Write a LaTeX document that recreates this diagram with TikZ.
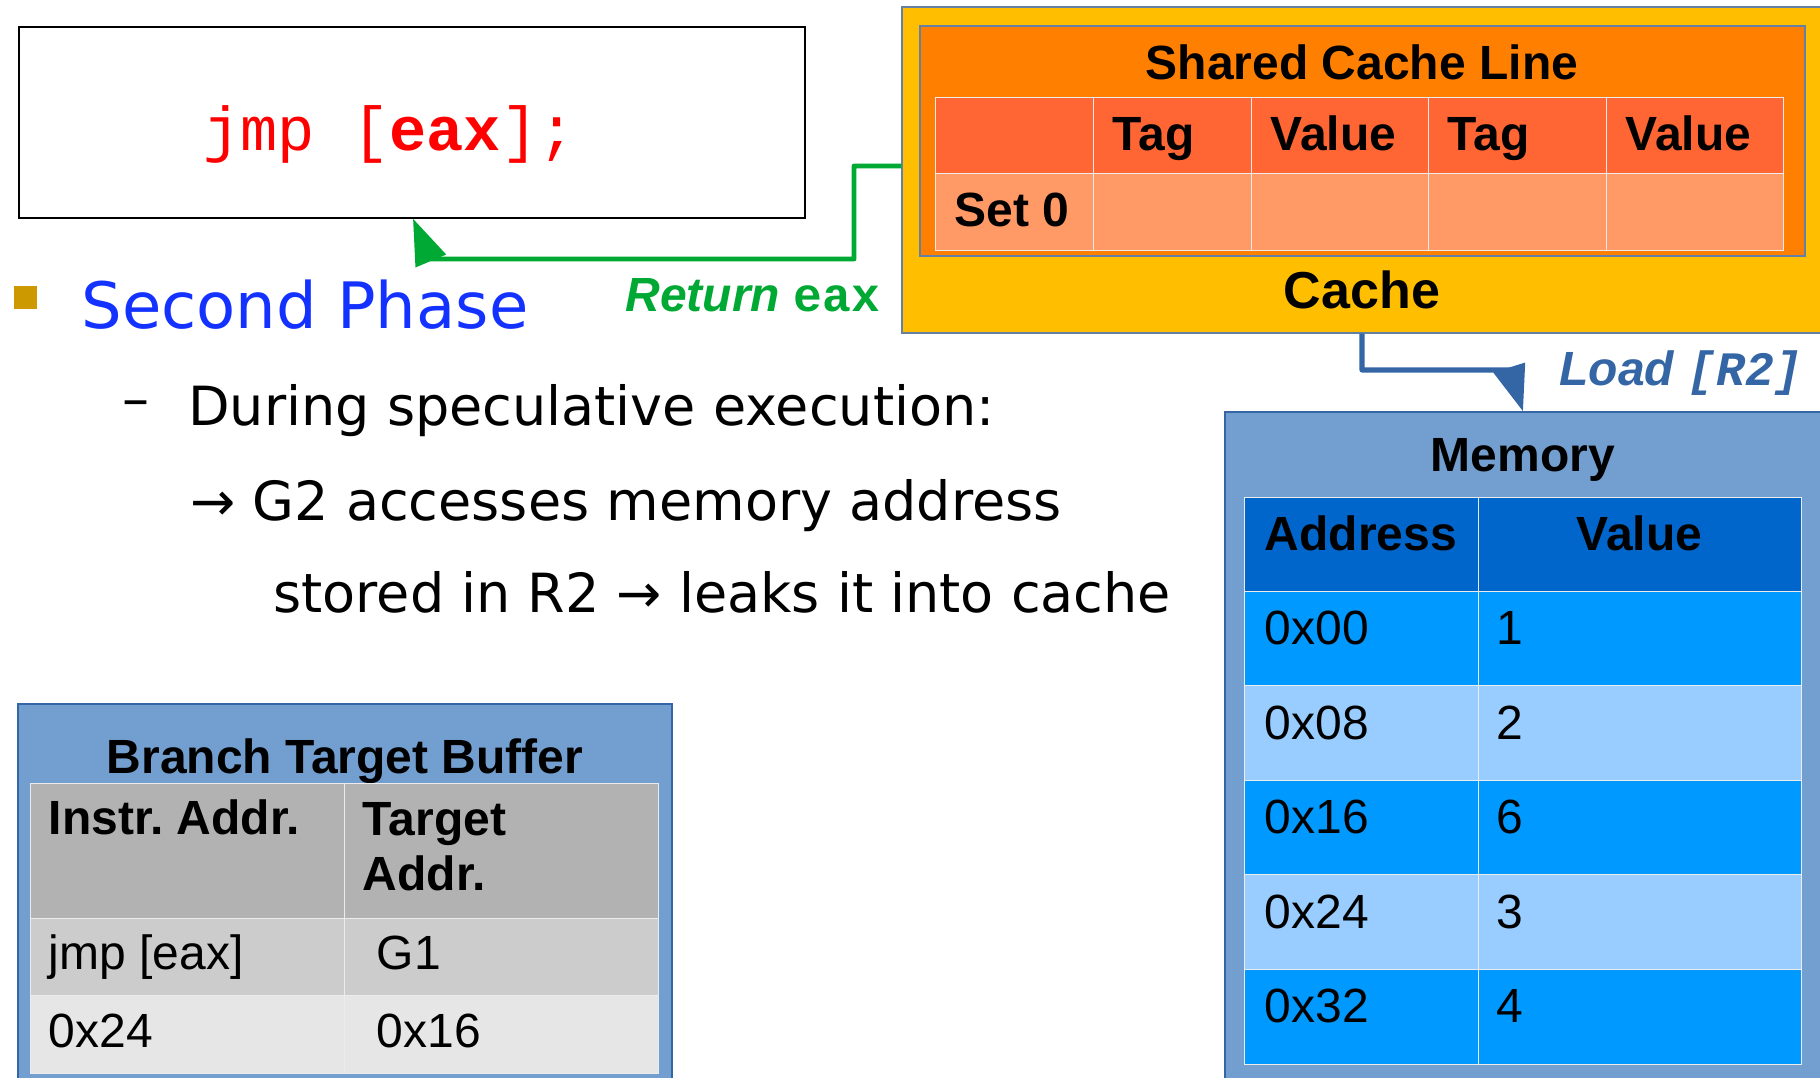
\documentclass[tikz,border=0pt]{standalone}
\usepackage{fontspec}
\setmainfont{DejaVu Sans}
\newfontfamily\tabfont{Liberation Sans}
\newfontfamily\codefont{Liberation Mono}
\usepackage{xcolor}
\usepackage{tikz}
\usetikzlibrary{positioning, calc, fit, arrows.meta}

\definecolor{cacheyellow}{RGB}{255,191,0}
\definecolor{lineorange}{RGB}{255,128,0}
\definecolor{taghead}{RGB}{255,102,51}
\definecolor{setrow}{RGB}{255,153,102}
\definecolor{framegray}{RGB}{100,128,165}
\definecolor{memblue}{RGB}{114,159,207}
\definecolor{memhead}{RGB}{0,102,204}
\definecolor{memdark}{RGB}{0,153,255}
\definecolor{memlight}{RGB}{153,204,255}
\definecolor{btbhead}{RGB}{178,178,178}
\definecolor{btbmid}{RGB}{204,204,204}
\definecolor{btblight}{RGB}{230,230,230}
\definecolor{retgreen}{RGB}{0,169,51}
\definecolor{loadblue}{RGB}{52,101,164}
\definecolor{phaseblue}{RGB}{20,50,255}
\definecolor{bulletgold}{RGB}{204,153,0}

\tikzset{
  panel/.style={inner sep=0pt, line width=0.6pt},
  cell/.style={inner sep=0pt, draw=white!85!gray, line width=0.5pt},
  lbl/.style={anchor=base west, inner sep=0pt},
  celltext/.style={anchor=base west, inner sep=0pt, font=\fontsize{24}{29}\selectfont\tabfont},
  cellbold/.style={celltext, font=\fontsize{24}{29}\selectfont\tabfont\bfseries},
  heading/.style={anchor=base, inner sep=0pt, font=\fontsize{24}{29}\selectfont\tabfont\bfseries},
  bodytext/.style={lbl, font=\fontsize{27}{32}\selectfont},
  retline/.style={draw=retgreen, line width=2.4pt, line join=round, -{Triangle[length=23pt,width=16pt]}},
  loadline/.style={draw=loadblue, line width=2.6pt, line join=round, -{Triangle[length=23pt,width=16pt]}}
}

\begin{document}
\begin{tikzpicture}[x=0.5pt,y=0.5pt,yscale=-1,xscale=1]
\useasboundingbox (0,0) rectangle (1820,1077);

%Shape: Rectangle [code]
\node[panel, draw=black, fit={(19,27) (805,218)}] (code) {};
% Text Node
\node[lbl, text=red, font=\fontsize{31}{37}\selectfont\codefont] (jmp) at (203,150) {jmp [\textbf{eax}];};

%Shape: Rectangle [cache]
\node[panel, draw=framegray, fill=cacheyellow, fit={(902,7) (1830,333)}] (cache) {};
\node[panel, draw=framegray, fill=lineorange, fit={(920,26) (1805,256)}] (line) {};
% Text Node
\node[heading] (linetitle) at (1362,79) {Shared Cache Line};
\node[heading, font=\fontsize{26}{31}\selectfont\tabfont\bfseries] (cachetitle) at (1362,308) {Cache};

%Cache line table
\foreach \xa/\xb/\t [count=\i] in {935/1093/{}, 1093/1251/Tag, 1251/1428/Value, 1428/1606/Tag, 1606/1783/Value} {
  \node[cell, fill=taghead, fit={(\xa,97) (\xb,173)}] (tag\i) {};
  \node[cell, fill=setrow, fit={(\xa,173) (\xb,250)}] (set\i) {};
  \node[cellbold] at ($(tag\i.north west)+(20,54)$) {\t};
}
\node[cellbold] (setname) at ($(set1.north west)+(20,54)$) {Set 0};

%Shape: Rectangle [memory]
\node[panel, draw=loadblue, fill=memblue, fit={(1225,412) (1830,1090)}] (memory) {};
% Text Node
\node[heading] (memtitle) at (1523,471) {Memory};
\node[cell, fill=memhead, fit={(1244,497) (1478,591)}] (addrhead) {};
\node[cell, fill=memhead, fit={(1478,497) (1801,591)}] (valhead) {};
\node[cellbold] at ($(addrhead.north west)+(21,54)$) {Address};
\node[heading] at ($(valhead.north)+(0,54)$) {Value};
\foreach \a/\v/\c [count=\i] in {0x00/1/memdark, 0x08/2/memlight, 0x16/6/memdark, 0x24/3/memlight, 0x32/4/memdark} {
  \pgfmathsetmacro\ya{591+(\i-1)*94.6}
  \pgfmathsetmacro\yb{\ya+94.6}
  \node[cell, fill=\c, fit={(1244,\ya) (1478,\yb)}] (addr\i) {};
  \node[cell, fill=\c, fit={(1478,\ya) (1801,\yb)}] (val\i) {};
  \node[celltext] at ($(addr\i.north west)+(21,54)$) {\a};
  \node[celltext] at ($(val\i.north west)+(19,54)$) {\v};
}

%Shape: Rectangle [btb]
\node[panel, draw=loadblue, fill=memblue, fit={(18,704) (672,1090)}] (btb) {};
% Text Node
\node[heading] (btbtitle) at (345,773) {Branch Target Buffer};
\node[cell, fill=btbhead, fit={(30,783) (344,918)}] (instrhead) {};
\node[cell, fill=btbhead, fit={(344,783) (658,918)}] (targethead) {};
\node[cell, fill=btbmid, fit={(30,918) (344,995)}] (instr1) {};
\node[cell, fill=btbmid, fit={(344,918) (658,995)}] (target1) {};
\node[cell, fill=btblight, fit={(30,995) (344,1073)}] (instr2) {};
\node[cell, fill=btblight, fit={(344,995) (658,1073)}] (target2) {};
\node[cellbold] at ($(instrhead.north west)+(19,52)$) {Instr.\ Addr.};
\node[cellbold, anchor=north west, align=left, font=\fontsize{24}{27.5}\selectfont\tabfont\bfseries] at ($(targethead.north west)+(19,20)$) {Target\\Addr.};
\node[celltext] at ($(instr1.north west)+(19,52)$) {jmp [eax]};
\node[celltext] at ($(target1.north west)+(33,52)$) {G1};
\node[celltext] at ($(instr2.north west)+(19,53)$) {0x24};
\node[celltext] at ($(target2.north west)+(33,53)$) {0x16};

%Bullet text
\node[fill=bulletgold, inner sep=0pt, minimum size=11.5pt] (bullet) at (25.5,297) {};
\node[lbl, text=phaseblue, font=\fontsize{32}{38}\selectfont] (phase) at (81,328) {Second Phase};
\node[bodytext] (dash) at (122,417) {–};
\node[bodytext] (during) at (188,425) {During speculative execution:};
\node[bodytext] (access) at (190,520) {→ G2 accesses memory address};
\node[bodytext] (stored) at (273,612) {stored in R2 → leaks it into cache};

%Connectors
\coordinate (retknee) at (430,259);
\coordinate (retx) at (413,0);
\draw[retline] ([yshift=-2pt]cache.west) -| (854,259) -- (retknee) -- (code.south -| retx);
\node[lbl, text=retgreen, font=\fontsize{24}{29}\selectfont\tabfont\bfseries\itshape] (ret) at (625,311) {Return {\codefont\upshape eax}};

\coordinate (loadknee) at (1510,370);
\coordinate (loadx) at (1523,0);
\draw[loadline] ([xshift=-2pt]cache.south) |- (loadknee) -- (memory.north -| loadx);
\node[lbl, text=loadblue, font=\fontsize{24}{29}\selectfont\tabfont\bfseries\itshape] (load) at (1559,385) {Load {\codefont [R2]}};

\end{tikzpicture}
\end{document}
